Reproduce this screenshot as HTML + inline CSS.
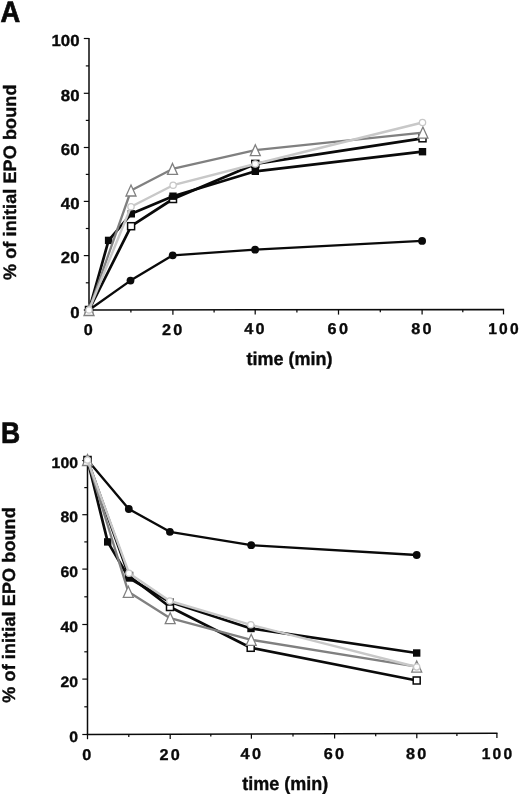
<!DOCTYPE html>
<html lang="en"><head><meta charset="utf-8"><title>EPO binding time course</title>
<style>
html,body{margin:0;padding:0;background:#fff;}
body{width:520px;height:796px;overflow:hidden;}
svg{display:block;}
.b{font-family:"Liberation Sans",Arial,Helvetica,sans-serif;font-weight:700;fill:#0a0a0a;}
.b{stroke:#0a0a0a;stroke-width:0.35px;text-rendering:geometricPrecision;}
.h{stroke-width:0.7px;text-rendering:geometricPrecision;}
.yl{letter-spacing:0.115px;}
.xl{letter-spacing:2.2px;}
svg{will-change:transform;}
</style></head><body>
<svg width="520" height="796" viewBox="0 0 520 796">
<rect width="520" height="796" fill="#fff"/>
<g id="panelA">
<line x1="89" y1="37.9" x2="89" y2="310.6" stroke="#0a0a0a" stroke-width="1.5"/>
<line x1="88.3" y1="310" x2="504.1" y2="309.6" stroke="#0a0a0a" stroke-width="1.55"/>
<line x1="83.8" y1="310.0" x2="89" y2="310.0" stroke="#0a0a0a" stroke-width="1.2"/>
<text transform="translate(79.5,317.7) scale(1.05,1)" text-anchor="end" font-size="16" class="b">0</text>
<line x1="85.8" y1="282.8" x2="89" y2="282.8" stroke="#0a0a0a" stroke-width="1.2"/>
<line x1="83.8" y1="255.6" x2="89" y2="255.6" stroke="#0a0a0a" stroke-width="1.2"/>
<text transform="translate(79.5,263.3) scale(1.05,1)" text-anchor="end" font-size="16" class="b">20</text>
<line x1="85.8" y1="228.5" x2="89" y2="228.5" stroke="#0a0a0a" stroke-width="1.2"/>
<line x1="83.8" y1="201.4" x2="89" y2="201.4" stroke="#0a0a0a" stroke-width="1.2"/>
<text transform="translate(79.5,209.1) scale(1.05,1)" text-anchor="end" font-size="16" class="b">40</text>
<line x1="85.8" y1="174.4" x2="89" y2="174.4" stroke="#0a0a0a" stroke-width="1.2"/>
<line x1="83.8" y1="147.5" x2="89" y2="147.5" stroke="#0a0a0a" stroke-width="1.2"/>
<text transform="translate(79.5,155.2) scale(1.05,1)" text-anchor="end" font-size="16" class="b">60</text>
<line x1="85.8" y1="120.4" x2="89" y2="120.4" stroke="#0a0a0a" stroke-width="1.2"/>
<line x1="83.8" y1="93.3" x2="89" y2="93.3" stroke="#0a0a0a" stroke-width="1.2"/>
<text transform="translate(79.5,101.0) scale(1.05,1)" text-anchor="end" font-size="16" class="b">80</text>
<line x1="85.8" y1="65.9" x2="89" y2="65.9" stroke="#0a0a0a" stroke-width="1.2"/>
<line x1="83.8" y1="38.5" x2="89" y2="38.5" stroke="#0a0a0a" stroke-width="1.2"/>
<text transform="translate(79.5,46.2) scale(1.05,1)" text-anchor="end" font-size="16" class="b">100</text>
<line x1="89.0" y1="310.0" x2="89.0" y2="314.8" stroke="#0a0a0a" stroke-width="1.25"/>
<text transform="translate(89.4,334.6) scale(1.04,1)" text-anchor="middle" font-size="15.6" class="b xl">0</text>
<line x1="130.9" y1="310.0" x2="130.9" y2="312.6" stroke="#0a0a0a" stroke-width="1.25"/>
<line x1="172.9" y1="309.9" x2="172.9" y2="314.7" stroke="#0a0a0a" stroke-width="1.25"/>
<text transform="translate(173.3,334.5) scale(1.04,1)" text-anchor="middle" font-size="15.6" class="b xl">20</text>
<line x1="214.1" y1="309.9" x2="214.1" y2="312.5" stroke="#0a0a0a" stroke-width="1.25"/>
<line x1="255.2" y1="309.8" x2="255.2" y2="314.6" stroke="#0a0a0a" stroke-width="1.25"/>
<text transform="translate(255.6,334.3) scale(1.04,1)" text-anchor="middle" font-size="15.6" class="b xl">40</text>
<line x1="296.9" y1="309.8" x2="296.9" y2="312.4" stroke="#0a0a0a" stroke-width="1.25"/>
<line x1="338.5" y1="309.8" x2="338.5" y2="314.6" stroke="#0a0a0a" stroke-width="1.25"/>
<text transform="translate(338.9,334.2) scale(1.04,1)" text-anchor="middle" font-size="15.6" class="b xl">60</text>
<line x1="380.3" y1="309.7" x2="380.3" y2="312.3" stroke="#0a0a0a" stroke-width="1.25"/>
<line x1="422.1" y1="309.7" x2="422.1" y2="314.5" stroke="#0a0a0a" stroke-width="1.25"/>
<text transform="translate(422.5,334.0) scale(1.04,1)" text-anchor="middle" font-size="15.6" class="b xl">80</text>
<line x1="462.8" y1="309.6" x2="462.8" y2="312.2" stroke="#0a0a0a" stroke-width="1.25"/>
<line x1="503.5" y1="309.6" x2="503.5" y2="314.4" stroke="#0a0a0a" stroke-width="1.25"/>
<text transform="translate(504.5,333.9) scale(1.0,1)" text-anchor="middle" font-size="15.6" class="b xl">100</text>
<polyline fill="none" stroke="#0a0a0a" stroke-width="2.35" stroke-linejoin="round" stroke-linecap="round" points="89.0,310.0 130.5,280.6 172.7,255.3 255.1,249.7 422.1,240.9"/>
<circle cx="89.0" cy="310.0" r="3.9" fill="#0a0a0a"/>
<circle cx="130.5" cy="280.6" r="3.9" fill="#0a0a0a"/>
<circle cx="172.7" cy="255.3" r="3.9" fill="#0a0a0a"/>
<circle cx="255.1" cy="249.7" r="3.9" fill="#0a0a0a"/>
<circle cx="422.1" cy="240.9" r="3.9" fill="#0a0a0a"/>
<polyline fill="none" stroke="#0a0a0a" stroke-width="2.7" stroke-linejoin="round" stroke-linecap="round" points="89.0,310.0 131.1,226.2 173.0,199.0 255.3,163.9 422.5,138.3"/>
<rect x="85.5" y="306.5" width="7.0" height="7.0" fill="#fff" stroke="#0a0a0a" stroke-width="1.5"/>
<rect x="127.6" y="222.7" width="7.0" height="7.0" fill="#fff" stroke="#0a0a0a" stroke-width="1.5"/>
<rect x="169.5" y="195.5" width="7.0" height="7.0" fill="#fff" stroke="#0a0a0a" stroke-width="1.5"/>
<rect x="251.8" y="160.4" width="7.0" height="7.0" fill="#fff" stroke="#0a0a0a" stroke-width="1.5"/>
<rect x="419.0" y="134.8" width="7.0" height="7.0" fill="#fff" stroke="#0a0a0a" stroke-width="1.5"/>
<polyline fill="none" stroke="#0a0a0a" stroke-width="2.7" stroke-linejoin="round" stroke-linecap="round" points="89.0,310.0 108.6,240.4 131.3,213.8 173.0,196.2 255.3,171.3 422.5,151.7"/>
<rect x="85.3" y="306.3" width="7.4" height="7.4" fill="#0a0a0a"/>
<rect x="104.9" y="236.7" width="7.4" height="7.4" fill="#0a0a0a"/>
<rect x="127.6" y="210.1" width="7.4" height="7.4" fill="#0a0a0a"/>
<rect x="169.3" y="192.5" width="7.4" height="7.4" fill="#0a0a0a"/>
<rect x="251.6" y="167.6" width="7.4" height="7.4" fill="#0a0a0a"/>
<rect x="418.8" y="148.0" width="7.4" height="7.4" fill="#0a0a0a"/>
<polyline fill="none" stroke="#808080" stroke-width="2.3" stroke-linejoin="round" stroke-linecap="round" points="89.0,310.0 131.0,190.5 172.5,168.9 255.3,150.2 422.9,132.6"/>
<polygon points="89.0,304.5 94.0,315.5 84.0,315.5" fill="#fff" stroke="#808080" stroke-width="1.3" stroke-linejoin="miter"/>
<polygon points="131.0,185.0 136.0,196.0 126.0,196.0" fill="#fff" stroke="#808080" stroke-width="1.3" stroke-linejoin="miter"/>
<polygon points="172.5,163.4 177.5,174.4 167.5,174.4" fill="#fff" stroke="#808080" stroke-width="1.3" stroke-linejoin="miter"/>
<polygon points="255.3,144.7 260.3,155.7 250.3,155.7" fill="#fff" stroke="#808080" stroke-width="1.3" stroke-linejoin="miter"/>
<polygon points="422.9,127.1 427.9,138.1 417.9,138.1" fill="#fff" stroke="#808080" stroke-width="1.3" stroke-linejoin="miter"/>
<polyline fill="none" stroke="#c8c8c8" stroke-width="2.4" stroke-linejoin="round" stroke-linecap="round" points="89.0,310.0 131.0,206.7 173.1,185.2 255.3,164.0 422.5,122.5"/>
<circle cx="89.0" cy="310.0" r="3.15" fill="#fff" stroke="#c8c8c8" stroke-width="1.3"/>
<circle cx="131.0" cy="206.7" r="3.15" fill="#fff" stroke="#c8c8c8" stroke-width="1.3"/>
<circle cx="173.1" cy="185.2" r="3.15" fill="#fff" stroke="#c8c8c8" stroke-width="1.3"/>
<circle cx="255.3" cy="164.0" r="3.15" fill="#fff" stroke="#c8c8c8" stroke-width="1.3"/>
<circle cx="422.5" cy="122.5" r="3.15" fill="#fff" stroke="#c8c8c8" stroke-width="1.3"/>
<text transform="translate(0.4,21.55) scale(0.915,1)" font-size="29.8" class="b h">A</text>
<text transform="translate(16.2,280) rotate(-90)" font-size="18" class="b yl">% of initial EPO bound</text>
<text transform="translate(246.6,364.6) scale(1,1.03)" font-size="18" class="b">time (min)</text>
</g>
<g id="panelB">
<line x1="87.5" y1="459.9" x2="87.5" y2="735.0" stroke="#0a0a0a" stroke-width="1.5"/>
<line x1="86.8" y1="734.4" x2="497.5" y2="733.2" stroke="#0a0a0a" stroke-width="1.55"/>
<line x1="82.3" y1="734.5" x2="87.5" y2="734.5" stroke="#0a0a0a" stroke-width="1.2"/>
<text transform="translate(77.9,741.9) scale(1.05,1)" text-anchor="end" font-size="15" class="b">0</text>
<line x1="84.3" y1="706.8" x2="87.5" y2="706.8" stroke="#0a0a0a" stroke-width="1.2"/>
<line x1="82.3" y1="679.1" x2="87.5" y2="679.1" stroke="#0a0a0a" stroke-width="1.2"/>
<text transform="translate(77.9,686.5) scale(1.05,1)" text-anchor="end" font-size="15" class="b">20</text>
<line x1="84.3" y1="651.8" x2="87.5" y2="651.8" stroke="#0a0a0a" stroke-width="1.2"/>
<line x1="82.3" y1="624.5" x2="87.5" y2="624.5" stroke="#0a0a0a" stroke-width="1.2"/>
<text transform="translate(77.9,631.9) scale(1.05,1)" text-anchor="end" font-size="15" class="b">40</text>
<line x1="84.3" y1="596.8" x2="87.5" y2="596.8" stroke="#0a0a0a" stroke-width="1.2"/>
<line x1="82.3" y1="569.1" x2="87.5" y2="569.1" stroke="#0a0a0a" stroke-width="1.2"/>
<text transform="translate(77.9,576.5) scale(1.05,1)" text-anchor="end" font-size="15" class="b">60</text>
<line x1="84.3" y1="541.9" x2="87.5" y2="541.9" stroke="#0a0a0a" stroke-width="1.2"/>
<line x1="82.3" y1="514.7" x2="87.5" y2="514.7" stroke="#0a0a0a" stroke-width="1.2"/>
<text transform="translate(77.9,522.1) scale(1.05,1)" text-anchor="end" font-size="15" class="b">80</text>
<line x1="84.3" y1="487.6" x2="87.5" y2="487.6" stroke="#0a0a0a" stroke-width="1.2"/>
<line x1="82.3" y1="460.5" x2="87.5" y2="460.5" stroke="#0a0a0a" stroke-width="1.2"/>
<text transform="translate(77.9,467.9) scale(1.05,1)" text-anchor="end" font-size="15" class="b">100</text>
<line x1="87.5" y1="734.4" x2="87.5" y2="739.2" stroke="#0a0a0a" stroke-width="1.25"/>
<text transform="translate(88.0,759.7) scale(1.04,1)" text-anchor="middle" font-size="15.6" class="b xl">0</text>
<line x1="128.8" y1="734.3" x2="128.8" y2="736.9" stroke="#0a0a0a" stroke-width="1.25"/>
<line x1="170.2" y1="734.2" x2="170.2" y2="739.0" stroke="#0a0a0a" stroke-width="1.25"/>
<text transform="translate(170.7,759.5) scale(1.04,1)" text-anchor="middle" font-size="15.6" class="b xl">20</text>
<line x1="210.8" y1="734.0" x2="210.8" y2="736.6" stroke="#0a0a0a" stroke-width="1.25"/>
<line x1="251.4" y1="733.9" x2="251.4" y2="738.7" stroke="#0a0a0a" stroke-width="1.25"/>
<text transform="translate(251.9,759.2) scale(1.04,1)" text-anchor="middle" font-size="15.6" class="b xl">40</text>
<line x1="293.0" y1="733.8" x2="293.0" y2="736.4" stroke="#0a0a0a" stroke-width="1.25"/>
<line x1="334.6" y1="733.7" x2="334.6" y2="738.5" stroke="#0a0a0a" stroke-width="1.25"/>
<text transform="translate(335.1,759.0) scale(1.04,1)" text-anchor="middle" font-size="15.6" class="b xl">60</text>
<line x1="375.7" y1="733.6" x2="375.7" y2="736.2" stroke="#0a0a0a" stroke-width="1.25"/>
<line x1="416.8" y1="733.4" x2="416.8" y2="738.2" stroke="#0a0a0a" stroke-width="1.25"/>
<text transform="translate(417.3,758.7) scale(1.04,1)" text-anchor="middle" font-size="15.6" class="b xl">80</text>
<line x1="456.9" y1="733.3" x2="456.9" y2="735.9" stroke="#0a0a0a" stroke-width="1.25"/>
<line x1="496.9" y1="733.2" x2="496.9" y2="738.0" stroke="#0a0a0a" stroke-width="1.25"/>
<text transform="translate(498.0,758.5) scale(1.0,1)" text-anchor="middle" font-size="15.6" class="b xl">100</text>
<polyline fill="none" stroke="#0a0a0a" stroke-width="2.35" stroke-linejoin="round" stroke-linecap="round" points="87.5,460.0 128.8,509.0 169.9,531.8 251.2,545.2 416.7,555.0"/>
<circle cx="87.5" cy="460.0" r="3.9" fill="#0a0a0a"/>
<circle cx="128.8" cy="509.0" r="3.9" fill="#0a0a0a"/>
<circle cx="169.9" cy="531.8" r="3.9" fill="#0a0a0a"/>
<circle cx="251.2" cy="545.2" r="3.9" fill="#0a0a0a"/>
<circle cx="416.7" cy="555.0" r="3.9" fill="#0a0a0a"/>
<polyline fill="none" stroke="#0a0a0a" stroke-width="2.7" stroke-linejoin="round" stroke-linecap="round" points="87.5,460.0 129.0,576.0 170.0,607.0 250.7,647.8 416.7,680.5"/>
<rect x="84.0" y="456.5" width="7.0" height="7.0" fill="#fff" stroke="#0a0a0a" stroke-width="1.5"/>
<rect x="125.5" y="572.5" width="7.0" height="7.0" fill="#fff" stroke="#0a0a0a" stroke-width="1.5"/>
<rect x="166.5" y="603.5" width="7.0" height="7.0" fill="#fff" stroke="#0a0a0a" stroke-width="1.5"/>
<rect x="247.2" y="644.3" width="7.0" height="7.0" fill="#fff" stroke="#0a0a0a" stroke-width="1.5"/>
<rect x="413.2" y="677.0" width="7.0" height="7.0" fill="#fff" stroke="#0a0a0a" stroke-width="1.5"/>
<polyline fill="none" stroke="#0a0a0a" stroke-width="2.7" stroke-linejoin="round" stroke-linecap="round" points="87.5,460.0 107.7,541.9 129.0,578.0 170.0,602.0 251.0,628.5 416.7,653.0"/>
<rect x="83.8" y="456.3" width="7.4" height="7.4" fill="#0a0a0a"/>
<rect x="104.0" y="538.2" width="7.4" height="7.4" fill="#0a0a0a"/>
<rect x="125.3" y="574.3" width="7.4" height="7.4" fill="#0a0a0a"/>
<rect x="166.3" y="598.3" width="7.4" height="7.4" fill="#0a0a0a"/>
<rect x="247.3" y="624.8" width="7.4" height="7.4" fill="#0a0a0a"/>
<rect x="413.0" y="649.3" width="7.4" height="7.4" fill="#0a0a0a"/>
<polyline fill="none" stroke="#808080" stroke-width="2.3" stroke-linejoin="round" stroke-linecap="round" points="87.5,460.0 128.3,591.8 170.2,618.2 251.2,639.8 416.7,666.6"/>
<polygon points="87.5,454.5 92.5,465.5 82.5,465.5" fill="#fff" stroke="#808080" stroke-width="1.3" stroke-linejoin="miter"/>
<polygon points="128.3,586.3 133.3,597.3 123.3,597.3" fill="#fff" stroke="#808080" stroke-width="1.3" stroke-linejoin="miter"/>
<polygon points="170.2,612.7 175.2,623.7 165.2,623.7" fill="#fff" stroke="#808080" stroke-width="1.3" stroke-linejoin="miter"/>
<polygon points="251.2,634.3 256.2,645.3 246.2,645.3" fill="#fff" stroke="#808080" stroke-width="1.3" stroke-linejoin="miter"/>
<polygon points="416.7,661.1 421.7,672.1 411.7,672.1" fill="#fff" stroke="#808080" stroke-width="1.3" stroke-linejoin="miter"/>
<polyline fill="none" stroke="#c8c8c8" stroke-width="2.4" stroke-linejoin="round" stroke-linecap="round" points="87.5,460.0 129.0,573.2 169.8,601.0 250.8,624.8 416.7,667.0"/>
<circle cx="87.5" cy="460.0" r="3.15" fill="#fff" stroke="#c8c8c8" stroke-width="1.3"/>
<circle cx="129.0" cy="573.2" r="3.15" fill="#fff" stroke="#c8c8c8" stroke-width="1.3"/>
<circle cx="169.8" cy="601.0" r="3.15" fill="#fff" stroke="#c8c8c8" stroke-width="1.3"/>
<circle cx="250.8" cy="624.8" r="3.15" fill="#fff" stroke="#c8c8c8" stroke-width="1.3"/>
<circle cx="416.7" cy="667.0" r="3.15" fill="#fff" stroke="#c8c8c8" stroke-width="1.3"/>
<text transform="translate(1.1,442.55) scale(0.89,1)" font-size="29.8" class="b h">B</text>
<text transform="translate(15.0,702.7) rotate(-90)" font-size="18" class="b yl">% of initial EPO bound</text>
<text transform="translate(242.2,790.4) scale(1,1.05)" font-size="18" class="b">time (min)</text>
</g>
</svg>
</body></html>
